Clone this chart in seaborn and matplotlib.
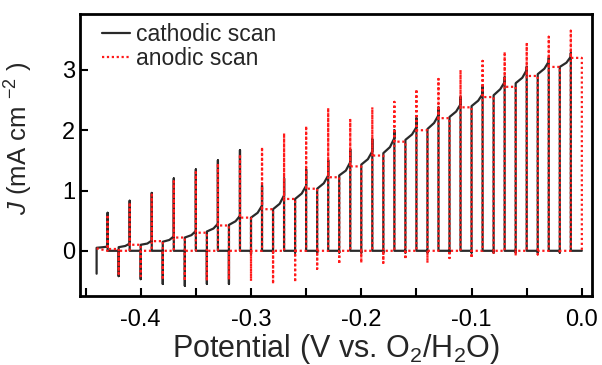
import numpy as np
import pandas as pd
import matplotlib
matplotlib.use("Agg")
import matplotlib.pyplot as plt
import seaborn as sns

# ---------------- data ----------------
# chopping edges every 0.01 V from -0.44 V to 0.00 V
# cathodic (black) light-on segments start at these potentials (width 0.01 V)
cath_start = [-0.44 + 0.02 * k for k in range(22)]
cath_L = [0.05, 0.06, 0.10, 0.15, 0.22, 0.32, 0.43, 0.55, 0.69, 0.86, 1.03,
          1.25, 1.43, 1.62, 1.84, 2.02, 2.22, 2.40, 2.58, 2.78, 2.93, 3.05]
cath_M = [0.06, 0.08, 0.12, 0.18, 0.26, 0.37, 0.49, 0.63, 0.78, 0.95, 1.12,
          1.33, 1.52, 1.72, 1.93, 2.12, 2.31, 2.49, 2.68, 2.87, 3.02, 3.12]
cath_C = [0.07, 0.12, 0.17, 0.24, 0.33, 0.45, 0.58, 0.75, 0.92, 1.08, 1.25,
          1.47, 1.65, 1.87, 2.05, 2.25, 2.43, 2.60, 2.80, 3.00, 3.14, 3.22]
cath_spike = [0.63, 0.83, 0.96, 1.20, 1.35, 1.50, 1.67, 1.08, 1.20, 1.35, 1.50,
              1.68, 1.85, 2.00, 2.20, 2.38, 2.55, 2.72, 2.88, 3.05, 3.20, 3.28]
cath_neg = [-0.38, -0.42, -0.47, -0.55, -0.58, -0.55, -0.55, -0.05, -0.03, -0.03, -0.03,
            -0.03, -0.03, -0.03, -0.03, -0.03, -0.03, -0.03, -0.03, -0.03, -0.03, -0.03]

# anodic (red) light-on segments start at these potentials (width 0.01 V)
anod_start = [-0.43 + 0.02 * k for k in range(22)]
anod_level = [0.03, 0.10, 0.16, 0.22, 0.30, 0.42, 0.55, 0.69, 0.86, 1.03, 1.22,
              1.40, 1.58, 1.81, 2.00, 2.20, 2.38, 2.55, 2.72, 2.90, 3.05, 3.20]
anod_spike = [0.60, 0.80, 0.93, 1.15, 1.30, 1.45, 1.60, 1.72, 1.95, 2.07, 2.37,
              2.17, 2.38, 2.47, 2.68, 2.85, 3.00, 3.15, 3.30, 3.43, 3.55, 3.65]
anod_neg = [-0.38, -0.42, -0.48, -0.50, -0.50, -0.48, -0.50, -0.55, -0.52, -0.30, -0.22,
            -0.20, -0.20, -0.14, -0.20, -0.12, -0.12, -0.05, -0.08, -0.06, -0.04, 0.0]

step = 0.01
x_ticks = [-0.4, -0.3, -0.2, -0.1, 0.0]
x_tick_labels = ["-0.4", "-0.3", "-0.2", "-0.1", "0.0"]
y_ticks = [0, 1, 2, 3]

# ---------------- build traces ----------------
cx, cy = [], []
for k, x0 in enumerate(cath_start):
    x1 = x0 + step
    if k > 0:
        cx += [x0]; cy += [0.0]
    cx += [x0, x0, x0 + 0.6 * step, x1, x1, x1]
    cy += [cath_neg[k], cath_L[k], cath_M[k], cath_C[k], cath_spike[k], 0.0]
cx += [0.0]; cy += [0.0]
cath = pd.DataFrame({"V": cx, "J": cy})

ax_, ay_ = [-0.44], [0.04]
for k, x1 in enumerate(anod_start):
    x2 = x1 + step
    ax_ += [x1, x1, x1, x2, x2, x2]
    ay_ += [0.0, anod_spike[k], anod_level[k], anod_level[k], anod_neg[k], 0.0]
anod = pd.DataFrame({"V": ax_, "J": ay_})

# ---------------- plot ----------------
sns.set_theme(style="ticks")
plt.rcParams["font.family"] = ["Liberation Sans", "DejaVu Sans"]
plt.rcParams["mathtext.fontset"] = "custom"
plt.rcParams["mathtext.rm"] = "Liberation Sans"
plt.rcParams["mathtext.it"] = "Liberation Sans:italic"

fig = plt.figure(figsize=(6.02, 3.65), dpi=100)
ax = fig.add_axes([0.133, 0.189, 0.850, 0.773])

sns.lineplot(data=cath, x="V", y="J", sort=False, estimator=None, ax=ax,
             color="#2a2a2a", lw=1.6, label="cathodic scan")
sns.lineplot(data=anod, x="V", y="J", sort=False, estimator=None, ax=ax,
             color="#ff1a1a", lw=1.6, linestyle=(0, (1, 1.2)), label="anodic scan")

ax.set_xlim(-0.455, 0.009)
ax.set_ylim(-0.75, 3.93)
ax.set_xticks(x_ticks)
ax.set_xticklabels(x_tick_labels)
ax.set_xticks([-0.45, -0.35, -0.25, -0.15, -0.05], minor=True)
ax.set_yticks(y_ticks)
ax.tick_params(axis="both", which="both", direction="in", length=6, width=1.5,
               labelsize=17, colors="black")
ax.tick_params(axis="x", pad=9)
for s in ax.spines.values():
    s.set_linewidth(2)
    s.set_color("black")

ax.set_xlabel("Potential (V vs. O$_2$/H$_2$O)", fontsize=22, labelpad=1)
ax.set_ylabel(r"$J$ (mA cm $^{-2}$ )", fontsize=18.5)
ax.yaxis.set_label_coords(-0.088, 0.56)

leg = ax.legend(loc="upper left", frameon=False, fontsize=16.5, handlelength=1.2,
                handletextpad=0.3, borderaxespad=0.0, labelspacing=0.05,
                bbox_to_anchor=(0.025, 1.0))

fig.savefig("out.png", dpi=100)
